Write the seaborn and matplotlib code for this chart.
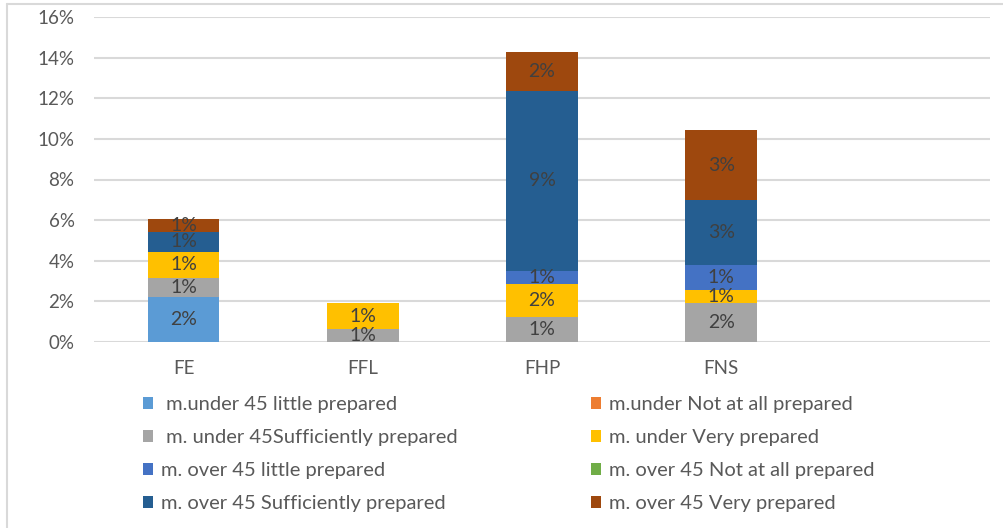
import numpy as np
import pandas as pd
import matplotlib
matplotlib.use("Agg")
import matplotlib.pyplot as plt
from matplotlib.patches import Patch
from matplotlib.lines import Line2D
from matplotlib.ticker import FuncFormatter, MultipleLocator
import seaborn as sns

# Share of respondents (%) per field, stacked by age group and preparedness
categories = ["FE", "FFL", "FHP", "FNS"]

series_names = [
    " m.under 45 little prepared",
    "m.under Not at all prepared",
    " m. under 45Sufficiently prepared",
    "m. under Very prepared",
    "m. over 45 little prepared",
    "m. over 45 Not at all prepared",
    "m. over 45 Sufficiently prepared",
    "m. over 45 Very prepared",
]

under45_little = [2.23, 0.0, 0.0, 0.0]
under_not_at_all = [0.0, 0.0, 0.0, 0.0]
under45_sufficient = [0.94, 0.63, 1.25, 1.91]
under_very = [1.28, 1.28, 1.61, 0.65]
over45_little = [0.0, 0.0, 0.64, 1.23]
over45_not_at_all = [0.0, 0.0, 0.0, 0.0]
over45_sufficient = [0.95, 0.0, 8.86, 3.19]
over45_very = [0.64, 0.0, 1.94, 3.45]

series_values = [
    under45_little, under_not_at_all, under45_sufficient, under_very,
    over45_little, over45_not_at_all, over45_sufficient, over45_very,
]

colors = ["#5B9BD5", "#ED7D31", "#A5A5A5", "#FFC000",
          "#4472C4", "#70AD47", "#255E91", "#9E480E"]

sns.set_theme(style="white")
plt.rcParams["font.family"] = ["Lato", "DejaVu Sans"]

W, H = 1004, 528
fig = plt.figure(figsize=(W / 100, H / 100), dpi=100)
fig.patch.set_facecolor("white")

# plot area in pixel terms
left, right, top, bottom_px = 94, 990, 17, 342
ax = fig.add_axes([left / W, (H - bottom_px) / H, (right - left) / W, (bottom_px - top) / H])

base = np.zeros(len(categories))
for name, vals, color in zip(series_names, series_values, colors):
    df = pd.DataFrame({"category": categories, "value": vals})
    sns.barplot(data=df, x="category", y="value", order=categories,
                color=color, saturation=1, width=0.4, bottom=base.copy(),
                errorbar=None, ax=ax, linewidth=0, zorder=3)
    labels = [f"{v:.0f}%" if v > 0 else "" for v in vals]
    ax.bar_label(ax.containers[-1], labels=labels, label_type="center",
                 color="#404040", fontsize=14, zorder=4)
    base += np.array(vals)

ax.set_xlim(-0.5, 4.5)
ax.set_ylim(0, 16)
ax.yaxis.set_major_locator(MultipleLocator(2))
ax.yaxis.set_major_formatter(FuncFormatter(lambda v, p: f"{v:.0f}%"))
ax.set_xlabel("")
ax.set_ylabel("")
ax.grid(axis="y", color="#D9D9D9", linewidth=1.5)
ax.grid(axis="x", visible=False)
ax.set_axisbelow(True)
for s in ax.spines.values():
    s.set_visible(False)
ax.tick_params(axis="both", length=0, colors="#595959", labelsize=13.5)
ax.tick_params(axis="y", pad=14)
ax.tick_params(axis="x", pad=13)

# legend in two columns below the plot
handles = [Patch(facecolor=c, edgecolor="none") for c in colors]
leg_kw = dict(loc="upper left", frameon=False, fontsize=14.5, labelcolor="#595959",
              handlelength=0.5, handleheight=0.5, handletextpad=0.4,
              labelspacing=0.8, borderpad=0, borderaxespad=0)
leg1 = fig.legend(handles[0::2], series_names[0::2],
                  bbox_to_anchor=(143 / W, (H - 396) / H), **leg_kw)
leg2 = fig.legend(handles[1::2], series_names[1::2],
                  bbox_to_anchor=(591 / W, (H - 396) / H), **leg_kw)

# chart frame
fig.add_artist(Line2D([6.5 / W, 6.5 / W], [0, (H - 3.5) / H], transform=fig.transFigure,
                      color="#D9D9D9", linewidth=1.5))
fig.add_artist(Line2D([6.5 / W, 1], [(H - 3.5) / H, (H - 3.5) / H], transform=fig.transFigure,
                      color="#D9D9D9", linewidth=1.5))

fig.savefig("out.png", dpi=100, facecolor="white")
